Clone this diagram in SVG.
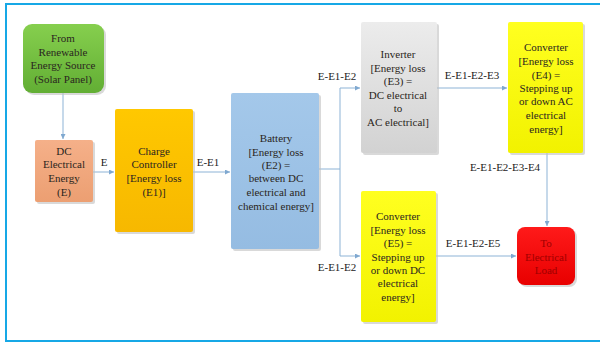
<svg xmlns="http://www.w3.org/2000/svg" width="600" height="342" viewBox="0 0 600 342">
<defs>
<style>
text{font-family:"Liberation Serif","DejaVu Serif","Times New Roman",serif;font-size:11px;fill:#2a2520;text-anchor:middle}
.lbl{fill:#222}
.c{fill:none;stroke:#8db3d6;stroke-width:1}
.sh{fill:#bfbfbf;opacity:0.6}
.red text{fill:#a00000}
</style>
<linearGradient id="gG" x1="0" y1="0" x2="0" y2="1"><stop offset="0" stop-color="#86cf4e"/><stop offset="1" stop-color="#62ae34"/></linearGradient>
<linearGradient id="gP" x1="0" y1="0" x2="0" y2="1"><stop offset="0" stop-color="#f5b089"/><stop offset="1" stop-color="#ec9f72"/></linearGradient>
<linearGradient id="gO" x1="0" y1="0" x2="0" y2="1"><stop offset="0" stop-color="#ffc800"/><stop offset="1" stop-color="#f7b800"/></linearGradient>
<linearGradient id="gB" x1="0" y1="0" x2="0" y2="1"><stop offset="0" stop-color="#a4c8ea"/><stop offset="1" stop-color="#95bce2"/></linearGradient>
<linearGradient id="gI" x1="0" y1="0" x2="0" y2="1"><stop offset="0" stop-color="#ececec"/><stop offset="1" stop-color="#d2d2d2"/></linearGradient>
<linearGradient id="gY" x1="0" y1="0" x2="0" y2="1"><stop offset="0" stop-color="#ffff20"/><stop offset="1" stop-color="#f2f200"/></linearGradient>
<linearGradient id="gR" x1="0" y1="0" x2="0" y2="1"><stop offset="0" stop-color="#ff1a1a"/><stop offset="1" stop-color="#e80000"/></linearGradient>
<marker id="ah" viewBox="0 0 6 6" refX="6" refY="3" markerWidth="5" markerHeight="5" orient="auto"><path d="M0,0 L6,3 L0,6 z" fill="#7fa8d0"/></marker>
</defs>
<rect x="0" y="0" width="600" height="342" fill="#ffffff"/>
<rect x="6" y="4" width="600" height="337" fill="none" stroke="#16a8e6" stroke-width="2"/>

<g id="connectors">
<path class="c" d="M63,93 V139" marker-end="url(#ah)"/>
<path class="c" d="M93,172 H114" marker-end="url(#ah)"/>
<path class="c" d="M193,172 H230" marker-end="url(#ah)"/>
<path class="c" d="M319,169 H340"/>
<path class="c" d="M340,88 V256"/>
<path class="c" d="M340,88 H360" marker-end="url(#ah)"/>
<path class="c" d="M340,256 H360" marker-end="url(#ah)"/>
<path class="c" d="M437,88 H507" marker-end="url(#ah)"/>
<path class="c" d="M436,256 H516" marker-end="url(#ah)"/>
<path class="c" d="M547,153 V226" marker-end="url(#ah)"/>
<text class="lbl" x="104" y="166">E</text>
<text class="lbl" x="208" y="166">E-E1</text>
<text class="lbl" x="337" y="80">E-E1-E2</text>
<text class="lbl" x="337" y="271">E-E1-E2</text>
<text class="lbl" x="472" y="79">E-E1-E2-E3</text>
<text class="lbl" x="505" y="171">E-E1-E2-E3-E4</text>
<text class="lbl" x="473" y="247">E-E1-E2-E5</text>
</g>

<g id="solar">
<rect class="sh" x="25" y="26" width="81" height="69" rx="9"/>
<rect x="23" y="24" width="81" height="69" rx="9" fill="url(#gG)"/>
<text x="63" y="42">From</text>
<text x="63" y="56">Renewable</text>
<text x="63" y="69">Energy Source</text>
<text x="63" y="83">(Solar Panel)</text>
</g>

<g id="dc">
<rect class="sh" x="37" y="142" width="58" height="62" rx="2"/>
<rect x="35" y="140" width="58" height="62" rx="2" fill="url(#gP)"/>
<text x="64" y="155">DC</text>
<text x="64" y="168">Electrical</text>
<text x="64" y="182">Energy</text>
<text x="64" y="196">(E)</text>
</g>

<g id="charge">
<rect class="sh" x="117" y="111" width="78" height="123" rx="2"/>
<rect x="115" y="109" width="78" height="123" rx="2" fill="url(#gO)"/>
<text x="154" y="155">Charge</text>
<text x="154" y="168">Controller</text>
<text x="154" y="182">[Energy loss</text>
<text x="154" y="196">(E1)]</text>
</g>

<g id="battery">
<rect class="sh" x="233" y="95" width="88" height="156" rx="2"/>
<rect x="231" y="93" width="88" height="156" rx="2" fill="url(#gB)"/>
<text x="276" y="142">Battery</text>
<text x="276" y="156">[Energy loss</text>
<text x="276" y="169">(E2) =</text>
<text x="276" y="182">between DC</text>
<text x="276" y="196">electrical and</text>
<text x="276" y="210">chemical energy]</text>
</g>

<g id="inverter">
<rect class="sh" x="363" y="24" width="76" height="131" rx="2"/>
<rect x="361" y="22" width="76" height="131" rx="2" fill="url(#gI)"/>
<text x="398" y="58">Inverter</text>
<text x="398" y="72">[Energy loss</text>
<text x="398" y="85">(E3) =</text>
<text x="398" y="99">DC electrical</text>
<text x="398" y="112">to</text>
<text x="398" y="126">AC electrical]</text>
</g>

<g id="converterAC">
<rect class="sh" x="510" y="24" width="75" height="131" rx="2"/>
<rect x="508" y="22" width="75" height="131" rx="2" fill="url(#gY)"/>
<text x="546" y="51">Converter</text>
<text x="546" y="65">[Energy loss</text>
<text x="546" y="79">(E4) =</text>
<text x="546" y="92">Stepping up</text>
<text x="546" y="105">or down AC</text>
<text x="546" y="119">electrical</text>
<text x="546" y="133">energy]</text>
</g>

<g id="converterDC">
<rect class="sh" x="363" y="193" width="75" height="131" rx="2"/>
<rect x="361" y="191" width="75" height="131" rx="2" fill="url(#gY)"/>
<text x="398" y="220">Converter</text>
<text x="398" y="234">[Energy loss</text>
<text x="398" y="247">(E5) =</text>
<text x="398" y="261">Stepping up</text>
<text x="398" y="274">or down DC</text>
<text x="398" y="287">electrical</text>
<text x="398" y="301">energy]</text>
</g>

<g id="load" class="red">
<rect class="sh" x="519" y="229" width="58" height="58" rx="8"/>
<rect x="517" y="227" width="58" height="58" rx="8" fill="url(#gR)"/>
<text x="546" y="247">To</text>
<text x="546" y="261">Electrical</text>
<text x="546" y="274">Load</text>
</g>
</svg>
